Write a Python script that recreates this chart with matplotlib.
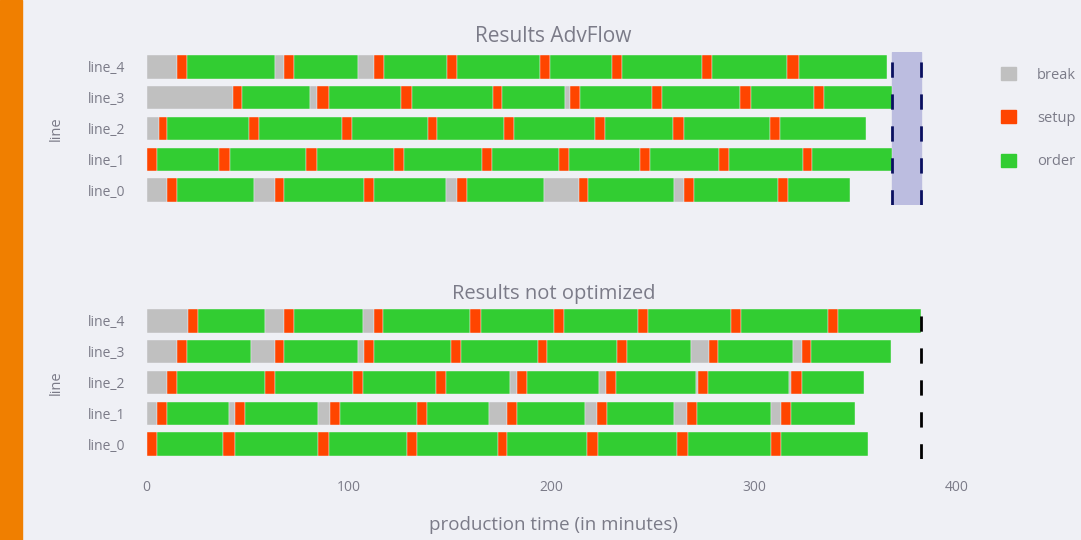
import numpy as np
import matplotlib.pyplot as plt
from matplotlib.patches import Patch, Rectangle

plt.rcParams['font.family'] = ['Open Sans', 'DejaVu Sans']

# rows of the gantt charts, bottom to top
lines = ["line_0", "line_1", "line_2", "line_3", "line_4"]
kinds = ["break", "setup", "order"]
colors = {"break": "#c0c0c0", "setup": "#ff4500", "order": "#32cd32"}

# AdvFlow schedule: (kind, duration in minutes) per line
adv_line_0 = [("break", 10), ("setup", 5), ("order", 38), ("break", 10.5), ("setup", 4.5), ("order", 39.5),
              ("setup", 5), ("order", 35.5), ("break", 5.5), ("setup", 5), ("order", 38), ("break", 17),
              ("setup", 4.5), ("order", 42.5), ("break", 5), ("setup", 5), ("order", 41.5), ("setup", 5),
              ("order", 30.5)]
adv_line_1 = [("setup", 5), ("order", 31), ("setup", 5), ("order", 38), ("setup", 5), ("order", 38),
              ("setup", 5), ("order", 38.5), ("setup", 5), ("order", 33), ("setup", 5), ("order", 35),
              ("setup", 5), ("order", 34), ("setup", 5), ("order", 36.5), ("setup", 4.5), ("order", 39.5)]
adv_line_2 = [("break", 6), ("setup", 4), ("order", 40.5), ("setup", 5), ("order", 41), ("setup", 5),
              ("order", 37.5), ("setup", 4.5), ("order", 33), ("setup", 5), ("order", 40), ("setup", 5),
              ("order", 33.5), ("setup", 5.5), ("order", 42.5), ("setup", 5), ("order", 42.5)]
adv_line_3 = [("break", 42.5), ("setup", 4.5), ("order", 33.5), ("break", 3.5), ("setup", 6), ("order", 35.5),
              ("setup", 5.5), ("order", 40), ("setup", 4.5), ("order", 31), ("break", 2.5), ("setup", 5),
              ("order", 35.5), ("setup", 5), ("order", 38.5), ("setup", 5.5), ("order", 31), ("setup", 5),
              ("order", 33.5)]
adv_line_4 = [("break", 15), ("setup", 5), ("order", 43.5), ("break", 4.5), ("setup", 5), ("order", 31.5),
              ("break", 8), ("setup", 5), ("order", 31), ("setup", 5), ("order", 41), ("setup", 5),
              ("order", 30.5), ("setup", 5), ("order", 39.5), ("setup", 5), ("order", 37), ("setup", 5.5),
              ("order", 43.5)]

# not optimized schedule
base_line_0 = [("setup", 5), ("order", 33), ("setup", 5.5), ("order", 41), ("setup", 5.5), ("order", 38.5),
               ("setup", 5), ("order", 40), ("setup", 4.5), ("order", 39.5), ("setup", 5.5), ("order", 39),
               ("setup", 5.5), ("order", 41), ("setup", 5), ("order", 43)]
base_line_1 = [("break", 5), ("setup", 5), ("order", 30.5), ("break", 3), ("setup", 5), ("order", 36),
               ("break", 6), ("setup", 5), ("order", 38), ("setup", 5), ("order", 30.5), ("break", 9),
               ("setup", 5), ("order", 33.5), ("break", 6), ("setup", 5), ("order", 33), ("break", 6.5),
               ("setup", 5), ("order", 36.5), ("break", 5), ("setup", 5), ("order", 31.5)]
base_line_2 = [("break", 10), ("setup", 5), ("order", 43.5), ("setup", 5), ("order", 38.5), ("setup", 5),
               ("order", 36), ("setup", 5), ("order", 31.5), ("break", 3.5), ("setup", 5), ("order", 35.5),
               ("break", 3.5), ("setup", 5), ("order", 39.5), ("break", 1), ("setup", 5), ("order", 40),
               ("break", 1), ("setup", 5), ("order", 31)]
base_line_3 = [("break", 15), ("setup", 5), ("order", 31.5), ("break", 12), ("setup", 4.5), ("order", 36.5),
               ("break", 3), ("setup", 5), ("order", 38), ("setup", 5), ("order", 38), ("setup", 4.5),
               ("order", 34.5), ("setup", 5), ("order", 31.5), ("break", 9), ("setup", 4), ("order", 37.5),
               ("break", 4), ("setup", 4.5), ("order", 39.5)]
base_line_4 = [("break", 20.5), ("setup", 5), ("order", 33), ("break", 9.5), ("setup", 5), ("order", 34),
               ("break", 5.5), ("setup", 4.5), ("order", 43), ("setup", 5), ("order", 36), ("setup", 5),
               ("order", 36.5), ("setup", 5), ("order", 41), ("setup", 5), ("order", 43), ("setup", 5),
               ("order", 41)]

x_ticks = [0, 100, 200, 300, 400]

BG = "#eff0f5"
TXT = "#7b7b88"


def draw_gantt(ax, rows, title):
    '''draws one stacked horizontal gantt chart, returns the makespan'''
    ends = []
    for i, row in enumerate(rows):
        start = 0
        for kind, dur in row:
            ax.barh(i, dur, left=start, height=0.76, color=colors[kind],
                    edgecolor=BG, linewidth=0.3)
            start += dur
        ends.append(start)
    ax.set_facecolor(BG)
    ax.set_xlim(0, 402)
    ax.set_ylim(-0.5, 4.5)
    ax.set_yticks(range(len(lines)))
    ax.set_yticklabels(lines)
    ax.set_xticks(x_ticks)
    ax.tick_params(length=0, labelsize=10, labelcolor=TXT)
    ax.tick_params(axis="y", pad=15.5)
    ax.set_ylabel("line", fontsize=10.5, color=TXT, labelpad=17)
    ax.set_title(title, fontsize=15, color=TXT, pad=7)
    for s in ax.spines.values():
        s.set_visible(False)
    return max(ends)


fig = plt.figure(figsize=(10.81, 5.40), dpi=100, facecolor=BG)
fig.patches.append(Rectangle((0, 0), 22 / 1081, 1, transform=fig.transFigure,
                             color="#f07f00", zorder=0))

ax1 = fig.add_axes([146.5 / 1081, 1 - 205.4 / 540, 814 / 1081, 153.8 / 540])
ax2 = fig.add_axes([146.5 / 1081, 1 - 459.4 / 540, 814 / 1081, 153.8 / 540])

adv_end = draw_gantt(ax1, [adv_line_0, adv_line_1, adv_line_2, adv_line_3, adv_line_4], "Results AdvFlow")
base_end = draw_gantt(ax2, [base_line_0, base_line_1, base_line_2, base_line_3, base_line_4], "Results not optimized")

ax1.set_xticklabels([])
ax2.set_title("Results not optimized", fontsize=14.5, color=TXT, pad=5)
ax2.set_xlabel("production time (in minutes)", fontsize=13.5, color=TXT, labelpad=15)
ax2.tick_params(axis="x", pad=15)

# gap between the two makespans
dash = (0, (5.5, 6))
ax1.axvspan(adv_end, base_end, color="#bcbde0", zorder=0)
ax1.axvline(adv_end, color="#0a1060", lw=2.0, linestyle=dash)
ax1.axvline(base_end, color="#0a1060", lw=2.0, linestyle=dash)
ax2.axvline(base_end, color="black", lw=2.0, linestyle=dash)

handles = [Patch(color=colors[k]) for k in kinds]
fig.legend(handles, kinds, loc="upper left", bbox_to_anchor=(988 / 1081, 1 - 54 / 540),
           frameon=False, handlelength=1.0, handleheight=1.0, labelspacing=1.9,
           handletextpad=1.45, fontsize=10.5, labelcolor=TXT)

fig.savefig("out.png", dpi=100, facecolor=BG)
